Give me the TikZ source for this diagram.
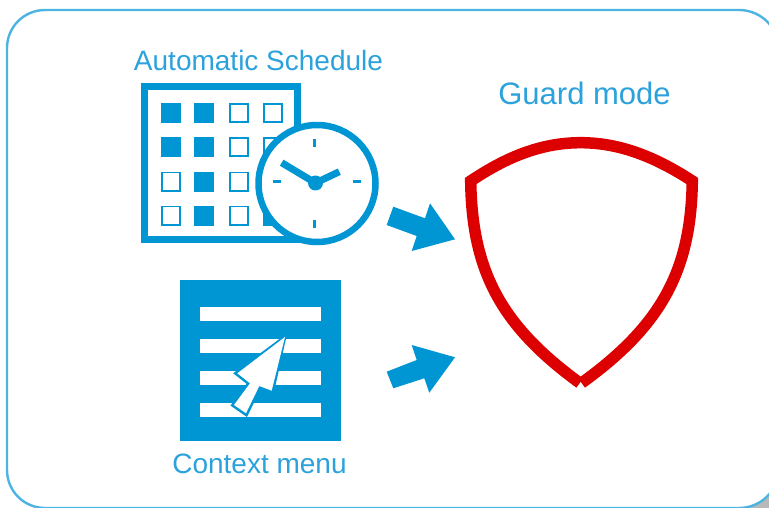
\documentclass[tikz,border=0pt]{standalone}
\usepackage{fontspec}
\setmainfont{Liberation Sans}
\definecolor{iconblue}{HTML}{0095D3}
\definecolor{textblue}{HTML}{2CA2DC}
\definecolor{frameblue}{HTML}{4DB4E2}
\definecolor{shieldred}{HTML}{DC0000}
\tikzset{
  label text/.style={text=textblue,font=\fontsize{28}{32}\selectfont,inner sep=0pt,anchor=base},
  guard text/.style={label text,font=\fontsize{31}{36}\selectfont},
  full cell/.style={fill=iconblue},
  empty cell/.style={draw=iconblue,line width=1.8pt,fill=white},
  clock tick/.style={draw=iconblue,line width=3pt},
  clock hand/.style={draw=iconblue,line width=7pt},
  block arrow/.style={fill=iconblue},
  menu bar/.style={fill=white}
}
\begin{document}
\begin{tikzpicture}[x=1pt,y=-1pt]
\useasboundingbox (0,0) rectangle (769,508);
\clip (0,0) rectangle (769,508);
% shadow in the corner
\fill[black!28] (769,490) -- (769,508) -- (742,508) -- cycle;
\draw[frameblue,line width=2.4pt,fill=white] (45,10) -- (739,10) arc[start angle=90,end angle=0,x radius=40,y radius=-40] -- (779,468) arc[start angle=0,end angle=-90,x radius=40,y radius=-40] -- (45,508) arc[start angle=-90,end angle=-180,x radius=38,y radius=-38] -- (7,48) arc[start angle=180,end angle=90,x radius=38,y radius=-38] -- cycle;
% labels
\node[label text] (autolabel) at (258.5,71) {Automatic Schedule};
\node[guard text] (guardlabel) at (584.5,105) {Guard mode};
\node[label text] (contextlabel) at (259.5,473) {Context menu};
% calendar
\draw[iconblue,line width=7pt,fill=white] (144.2,87) rectangle (297.2,239.7);
\foreach \cx/\cy in {160.7/103.3,194.3/103.3,160.7/137.3,194.3/137.3,194.3/171.7,194.3/205.7,262.7/205.7}
  \fill[full cell] (\cx,\cy) rectangle ++(20,20);
\foreach \cx/\cy in {228.7/103.3,262.7/103.3,228.7/137.3,262.7/137.3,160.7/171.7,228.7/171.7,160.7/205.7,228.7/205.7}
  \draw[empty cell] (\cx+.9,\cy+.9) rectangle ++(18.2,18.2);
% clock
\draw[iconblue,line width=6.5pt,fill=white] (317,183.5) circle[radius=58.5];
\coordinate (hub) at (315.5,183);
\draw[clock hand] (hub) -- (281.7,162.7);
\draw[clock hand] (hub) -- (339.3,171.7);
\fill[iconblue] (hub) circle[radius=7.5];
\draw[clock tick] (314.5,139.3) -- (314.5,147.3);
\draw[clock tick] (314.5,220) -- (314.5,227.7);
\draw[clock tick] (272.7,181.7) -- (280.7,181.7);
\draw[clock tick] (352.7,181.7) -- (360.7,181.7);
% context menu
\fill[iconblue] (180,280) rectangle (341,440.7);
\foreach \by in {306.7,338.7,371,402.7}
  \fill[menu bar] (200,\by) rectangle (321,\by+14);
\draw[iconblue,line width=5pt,line join=miter,miter limit=3]
  (283.3,339.3) -- (271.7,390.7) -- (259.3,386) -- (246,413.3) -- (234,405) -- (250,383.3) -- (237.3,373.3) -- cycle;
\fill[white]
  (285,337) -- (271.7,390.7) -- (259.3,386) -- (246,413.3) -- (234,405) -- (250,383.3) -- (237.3,373.3) -- cycle;
% arrows
\fill[block arrow] (393.3,206.7) -- (425,218.3) -- (430,203.3) -- (455,239.3) -- (411.7,251) -- (416.7,236) -- (386.7,225) -- cycle;
\fill[block arrow] (386.7,371.7) -- (416.7,360) -- (411.7,345) -- (455,357.3) -- (429.3,392.7) -- (424.3,378.3) -- (393.3,388.3) -- cycle;
% shield
\draw[shieldred,line width=11.5pt,line join=miter,miter limit=10]
  (579.8,383) .. controls (500,325) and (472,270) .. (470.7,181)
  .. controls (505,158) and (540,142.7) .. (580.7,142.7)
  .. controls (621,142.7) and (657,158) .. (692.3,181)
  .. controls (691,270) and (662,325) .. (581.6,383);
\end{tikzpicture}
\end{document}
